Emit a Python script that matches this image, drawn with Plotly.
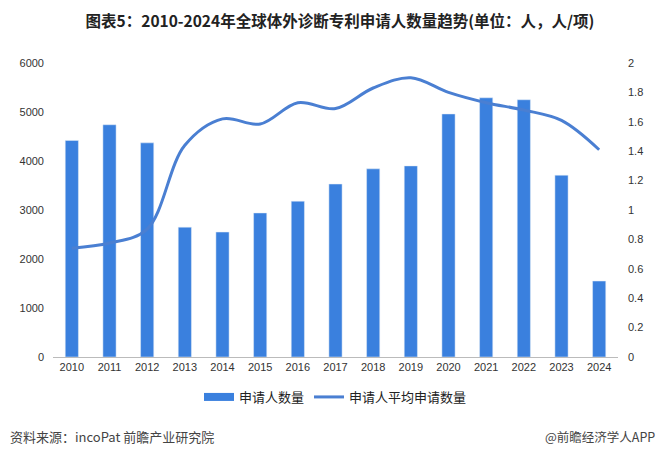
import plotly.graph_objects as go

years = ["2010","2011","2012","2013","2014","2015","2016","2017","2018","2019","2020","2021","2022","2023","2024"]
applicants = [4420, 4740, 4370, 2650, 2550, 2940, 3180, 3530, 3840, 3900, 4960, 5290, 5250, 3710, 1550]
avg_apps = [0.74, 0.775, 0.87, 1.44, 1.62, 1.585, 1.73, 1.69, 1.83, 1.90, 1.80, 1.73, 1.68, 1.61, 1.41]

FONT = "Noto Sans CJK SC, Noto Sans, sans-serif"
NUMFONT = "Liberation Sans, Arial, sans-serif"
BAR_C = "#3a80de"
LINE_C = "#4a7fd2"

fig = go.Figure()
fig.add_trace(go.Bar(x=years, y=applicants, name="申请人数量", marker_color=BAR_C, yaxis="y",
                     showlegend=False))
# legend proxy for the bar series (wide rectangle swatch)
fig.add_trace(go.Scatter(x=[None], y=[None], name="申请人数量", mode="lines",
                         line=dict(color=BAR_C, width=8), yaxis="y"))
fig.add_trace(go.Scatter(x=years, y=avg_apps, name="申请人平均申请数量", mode="lines",
                         line=dict(color=LINE_C, width=3, shape="spline", smoothing=1.0), yaxis="y2"))

fig.update_layout(
    width=664, height=458,
    margin=dict(l=45, r=54, t=55, b=109),
    paper_bgcolor="white", plot_bgcolor="white",
    font=dict(family=FONT, size=11, color="#333"),
    title=dict(text="<b>图表5：2010-2024年全球体外诊断专利申请人数量趋势(单位：人，人/项)</b>",
               x=0.5, xanchor="center", y=0.971, yanchor="middle",
               font=dict(size=15.5, color="#222", family=FONT)),
    bargap=0.65,
    showlegend=True,
    legend=dict(orientation="h", x=0.5, xanchor="center", y=-0.136, yanchor="middle",
                font=dict(size=13, color="#222"), tracegroupgap=0),
    xaxis=dict(type="category", showgrid=False, showline=True, linecolor="#bbb", linewidth=1,
               ticks="", tickfont=dict(size=11, color="#333", family=NUMFONT)),
    yaxis=dict(range=[0, 6000], dtick=1000, showgrid=False, zeroline=False, showline=False,
               tickfont=dict(size=11, color="#333", family=NUMFONT), ticklabelstandoff=8),
    yaxis2=dict(range=[0, 2], dtick=0.2, overlaying="y", side="right", showgrid=False, zeroline=False,
                showline=False, tickfont=dict(size=11, color="#333", family=NUMFONT),
                ticklabelstandoff=9, tickformat="~g"),
)

fig.add_annotation(text="资料来源：incoPat 前瞻产业研究院", xref="paper", yref="paper",
                   x=-0.0796, y=-0.272, xanchor="left", yanchor="middle", showarrow=False,
                   font=dict(size=13, color="#444"))
fig.add_annotation(text="@前瞻经济学人APP", xref="paper", yref="paper",
                   x=1.069, y=-0.272, xanchor="right", yanchor="middle", showarrow=False,
                   font=dict(size=12.5, color="#444"))

fig.write_html("out.html")
